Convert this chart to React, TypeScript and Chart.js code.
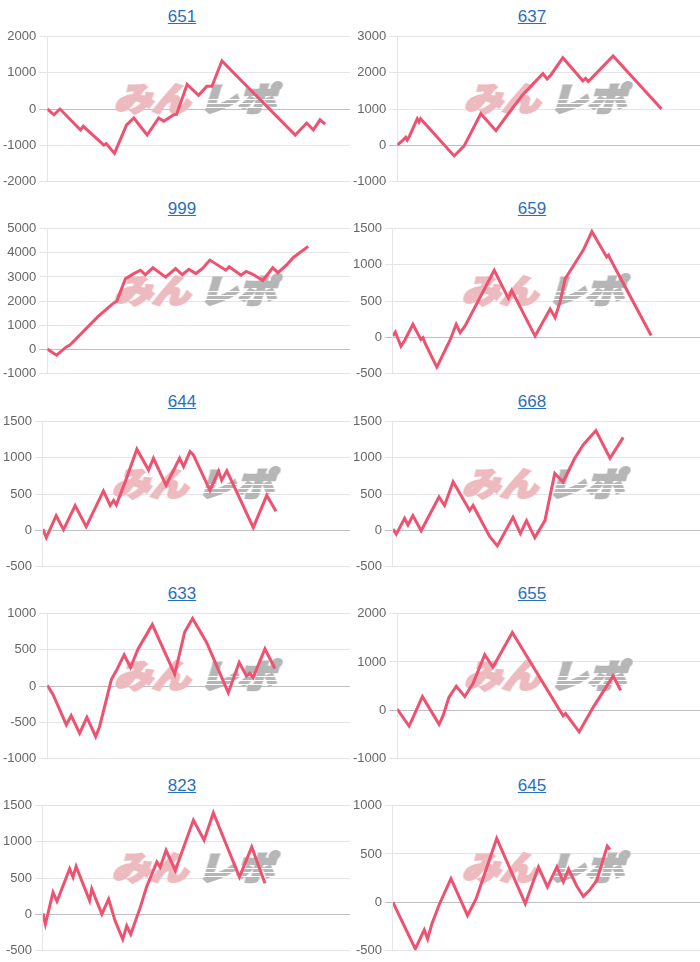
import React, { useEffect, useRef } from 'react';
import { Chart, registerables } from 'chart.js';

Chart.register(...registerables);

// Titles (machine numbers), row by row
const titles = ['651', '637', '999', '659', '644', '668', '633', '655', '823', '645'];

// Y axis settings for each chart
const yMins = [-2000, -1000, -1000, -500, -500, -500, -1000, -1000, -500, -500];
const yMaxs = [2000, 3000, 5000, 1500, 1500, 1500, 1000, 2000, 1500, 1000];
const ySteps = [1000, 1000, 1000, 500, 500, 500, 500, 1000, 500, 500];

// Series: [progress (share of the shared x range, 0-100), coin difference]
const s651: [number, number][] = [[0, 0], [2.2, -160], [4.2, 0], [11.0, -580], [11.9, -480], [18.7, -1000], [19.5, -960], [22.2, -1230], [23.6, -950], [26.2, -440], [28.6, -250], [33.0, -720], [36.8, -250], [38.5, -340], [41.8, -160], [42.7, -150], [46.2, 680], [50.0, 380], [52.7, 630], [54.4, 630], [57.7, 1330], [81.9, -720], [85.7, -390], [87.9, -580], [90.1, -300], [91.8, -420]];
const s637: [number, number][] = [[0, 0], [1.7, 120], [2.8, 215], [3.3, 140], [4.1, 260], [6.6, 730], [7.2, 640], [7.7, 730], [18.8, -300], [22.1, -20], [27.6, 870], [32.6, 400], [35.9, 780], [41.4, 1390], [48.1, 1980], [49.5, 1830], [50.8, 1950], [54.7, 2420], [61.3, 1780], [62.2, 1850], [63.1, 1760], [71.3, 2470], [87.3, 1000]];
const s999: [number, number][] = [[0, 0], [3.1, -250], [6.4, 100], [7.5, 170], [16.9, 1370], [21.4, 1860], [23.0, 2000], [25.8, 2920], [28.6, 3140], [30.8, 3280], [32.4, 3090], [34.9, 3380], [39.1, 2990], [42.4, 3350], [44.6, 3090], [46.8, 3320], [49.1, 3140], [51.3, 3350], [53.7, 3700], [59.0, 3280], [60.1, 3420], [64.0, 3070], [65.7, 3230], [67.9, 3110], [71.2, 2850], [74.5, 3380], [76.2, 3180], [79.0, 3490], [81.2, 3800], [86.2, 4270]];
const s659: [number, number][] = [[0, 14], [0.8, 70], [2.6, -126], [4.0, -33], [6.5, 177], [9.1, -33], [9.8, -9], [10.5, -89], [14.3, -416], [18.7, -33], [20.6, 177], [21.9, 61], [23.5, 154], [33.0, 925], [37.6, 537], [38.7, 645], [46.3, 14], [51.2, 388], [52.8, 271], [54.4, 481], [56.1, 808], [62.0, 1205], [64.8, 1462], [69.6, 1111], [70.2, 1135], [70.7, 1088], [84.1, 23]];
const s644: [number, number][] = [[0, 14], [1.1, -103], [4.3, 201], [6.7, 5], [10.5, 341], [14.1, 47], [19.7, 542], [21.9, 341], [23.0, 411], [23.9, 350], [26.8, 668], [30.6, 1121], [34.4, 831], [36.0, 995], [40.1, 621], [44.5, 995], [45.8, 878], [47.9, 1088], [49.0, 1041], [54.4, 551], [57.2, 817], [58.2, 691], [59.9, 822], [68.5, 37], [72.9, 481], [75.9, 262]];
const s668: [number, number][] = [[0, 14], [1.1, -56], [3.8, 163], [4.9, 70], [6.5, 201], [9.2, -9], [15.0, 458], [16.8, 341], [19.6, 668], [25.0, 271], [26.1, 341], [31.5, -89], [34.0, -219], [39.1, 177], [41.5, -47], [43.5, 131], [46.2, -103], [49.5, 131], [52.7, 785], [54.3, 715], [55.4, 668], [59.2, 995], [62.0, 1182], [66.1, 1378], [70.7, 995], [75.0, 1284]];
const s633: [number, number][] = [[0, 9], [1.9, -117], [6.3, -537], [7.9, -411], [10.7, -654], [13.1, -434], [16.0, -700], [17.3, -560], [21.2, 93], [22.8, 210], [25.4, 430], [27.5, 257], [30.0, 514], [34.7, 850], [42.1, 163], [45.4, 747], [48.0, 934], [52.6, 607], [59.8, -93], [63.4, 327], [65.8, 140], [66.9, 177], [68.0, 117], [71.9, 514], [75.2, 243]];
const s655: [number, number][] = [[0, 21], [3.9, -332], [5.2, -155], [8.3, 282], [10.1, 92], [13.8, -297], [15.1, -120], [17.1, 268], [19.5, 494], [22.3, 282], [25.0, 551], [28.9, 1151], [31.6, 890], [33.3, 1080], [38.0, 1610], [54.8, -120], [55.6, -71], [60.1, -452], [64.7, 56], [71.3, 706], [73.8, 410]];
const s823: [number, number][] = [[0, 9], [0.8, -140], [3.3, 302], [4.6, 177], [8.7, 628], [9.8, 512], [10.8, 660], [15.2, 186], [15.9, 349], [19.2, 0], [21.4, 209], [23.5, -93], [26.0, -349], [27.3, -163], [28.6, -279], [31.7, 93], [33.8, 381], [37.1, 721], [38.2, 651], [40.1, 884], [43.1, 605], [49.0, 1302], [52.5, 1023], [55.5, 1404], [64.0, 512], [68.0, 930], [72.3, 428]];
const s645: [number, number][] = [[0, 0], [1.8, -122], [7.3, -487], [10.2, -289], [11.3, -383], [12.7, -226], [15.2, -17], [18.9, 244], [24.3, -139], [27.1, 35], [33.8, 661], [43.1, -17], [47.4, 365], [50.3, 157], [53.4, 365], [55.5, 209], [57.2, 341], [59.9, 164], [62.0, 59], [64.0, 122], [66.4, 226], [69.8, 581], [70.7, 546]];

const series = [s651, s637, s999, s659, s644, s668, s633, s655, s823, s645];

const X_MAX = 100;
const LINE_COLOR = 'rgb(238, 82, 112)';
const PITCH = 192.3;
const FONT = '"Liberation Sans", Arial, Helvetica, sans-serif';

const watermark = {
  id: 'watermark',
  beforeDatasetsDraw(chart: any) {
    const { ctx, chartArea: a } = chart;
    const cx = (a.left + a.right) / 2;
    const cy = (a.top + a.bottom) / 2 - 12;
    const OW = 230;
    const OH = 60;
    const off = document.createElement('canvas');
    off.width = OW;
    off.height = OH;
    const o = off.getContext('2d');
    if (!o) return;
    o.font = '900 33px "Noto Sans CJK JP"';
    const w1 = o.measureText('みん').width;
    const w2 = o.measureText('レポ').width;
    const gap = 8;
    const total = w1 + gap + w2;
    const sx = 162 / total;
    o.setTransform(sx, 0, -0.3, 1, OW / 2, OH / 2);
    o.textBaseline = 'middle';
    o.textAlign = 'left';
    o.lineJoin = 'miter';
    o.lineWidth = 2.4;
    o.fillStyle = o.strokeStyle = 'rgb(237, 186, 191)';
    o.strokeText('みん', -total / 2, 1);
    o.fillText('みん', -total / 2, 1);
    o.fillStyle = o.strokeStyle = 'rgb(182, 182, 182)';
    o.strokeText('レポ', -total / 2 + w1 + gap, 1);
    o.fillText('レポ', -total / 2 + w1 + gap, 1);
    o.setTransform(1, 0, 0, 1, 0, 0);
    // speed-line slits through the grey part
    o.globalCompositeOperation = 'destination-out';
    const gx = OW / 2 + sx * (-total / 2 + w1 + gap) - 6;
    [OH / 2 + 2, OH / 2 + 6, OH / 2 + 10].forEach((y, i) => {
      o.fillRect(gx + i * 4, y, OW / 2 + 90 - gx, 1);
    });
    ctx.save();
    ctx.drawImage(off, cx - OW / 2, cy - OH / 2);
    ctx.restore();
  },
};

function Panel({ idx }: { idx: number }) {
  const ref = useRef<HTMLCanvasElement | null>(null);
  useEffect(() => {
    if (!ref.current) return;
    const chart = new Chart(ref.current, {
      type: 'line',
      data: {
        datasets: [
          {
            data: series[idx].map(([x, y]) => ({ x, y })),
            borderColor: LINE_COLOR,
            borderWidth: 3,
            pointRadius: 0,
            pointHoverRadius: 0,
            fill: false,
            tension: 0,
          },
        ],
      },
      options: {
        responsive: false,
        animation: false,
        events: [],
        layout: { padding: 0 },
        plugins: {
          legend: { display: false },
          tooltip: { enabled: false },
          title: { display: false },
        },
        scales: {
          x: { type: 'linear', min: 0, max: X_MAX, display: false },
          y: {
            min: yMins[idx],
            max: yMaxs[idx],
            ticks: {
              stepSize: ySteps[idx],
              color: '#666',
              font: { family: FONT, size: 13 },
              callback: (v: any) => String(v),
            },
            grid: {
              color: (c: any) => (c.tick && c.tick.value === 0 ? 'rgba(0,0,0,0.25)' : 'rgba(0,0,0,0.1)'),
            },
            border: { color: 'rgba(0,0,0,0.1)' },
          },
        },
      },
      plugins: [watermark],
    } as any);
    return () => chart.destroy();
  }, [idx]);

  const row = Math.floor(idx / 2);
  const col = idx % 2;
  return (
    <div style={{ position: 'absolute', left: col * 350, top: row * PITCH, width: 350, height: PITCH }}>
      <div
        style={{
          position: 'absolute',
          left: 132,
          top: 0,
          width: 100,
          height: 33,
          lineHeight: '33px',
          textAlign: 'center',
          fontFamily: FONT,
          fontSize: 17,
        }}
      >
        <a href="#" style={{ color: '#2a6fbd', textDecoration: 'underline' }}>
          {titles[idx]}
        </a>
      </div>
      <canvas
        ref={ref}
        width={350}
        height={166}
        style={{ position: 'absolute', left: 0, top: 26, width: 350, height: 166 }}
      />
    </div>
  );
}

export default function App() {
  return (
    <div style={{ position: 'absolute', left: 0, top: 0, width: 700, height: 962, overflow: 'hidden', background: '#fff' }}>
      {titles.map((_, i) => (
        <Panel key={i} idx={i} />
      ))}
    </div>
  );
}
